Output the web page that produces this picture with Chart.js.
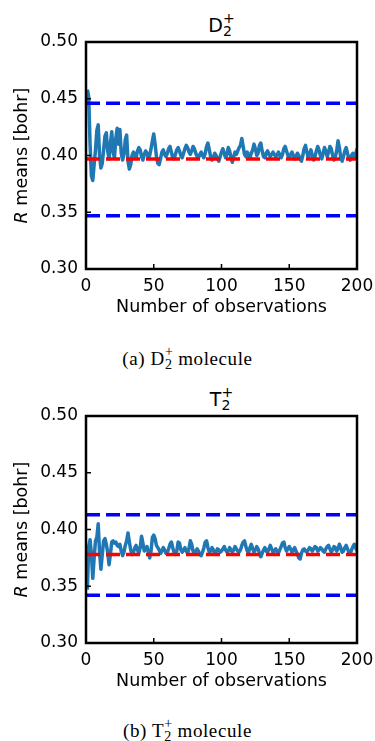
<!DOCTYPE html>
<html>
<head>
<meta charset="utf-8">
<script src="https://cdn.jsdelivr.net/npm/chart.js@4.4.1/dist/chart.umd.min.js"></script>
<style>
  body { margin: 0; background: #fff; width: 375px; height: 741px; position: relative; overflow: hidden; }
  canvas { position: absolute; left: 0; }
  .title { position: absolute; left: 86px; width: 271px; text-align: center; font: 19px "DejaVu Sans"; line-height: 20px; color: #000; }
  .caption { position: absolute; left: 0; width: 375px; text-align: center; font: 19px "Liberation Serif"; letter-spacing: 0.6px; line-height: 20px; color: #000; }
  .ss { display: inline-block; vertical-align: -0.32em; font-size: 0.74em; line-height: 0.95; text-align: left; letter-spacing: 0; }
  .ss span { display: block; }
</style>
</head>
<body>
<div class="title" style="top:12px">D<span class="ss"><span>+</span><span>2</span></span></div>
<canvas id="chartD" width="375" height="320" style="top:0px"></canvas>
<div class="caption" style="top:345px">(a) D<span class="ss"><span>+</span><span>2</span></span> molecule</div>

<div class="title" style="top:386px">T<span class="ss"><span>+</span><span>2</span></span></div>
<canvas id="chartT" width="375" height="320" style="top:374px"></canvas>
<div class="caption" style="top:717px">(b) T<span class="ss"><span>+</span><span>2</span></span> molecule</div>

<script>
// tick labels
const xTicks = [0, 50, 100, 150, 200];
const yTicks = [0.30, 0.35, 0.40, 0.45, 0.50];

// D2+ running means (observation 1..200)
const dMeans = [
  0.458, 0.452, 0.410, 0.382, 0.378, 0.392, 0.405, 0.422, 0.427, 0.400,
  0.389, 0.393, 0.405, 0.417, 0.420, 0.404, 0.397, 0.410, 0.421, 0.403,
  0.398, 0.415, 0.424, 0.410, 0.423, 0.402, 0.396, 0.401, 0.414, 0.418,
  0.395, 0.388, 0.392, 0.400, 0.403, 0.401, 0.398, 0.404, 0.407, 0.405,
  0.399, 0.396, 0.401, 0.404, 0.402, 0.398, 0.400, 0.406, 0.413, 0.419,
  0.410, 0.399, 0.393, 0.392, 0.397, 0.403, 0.405, 0.401, 0.399, 0.402,
  0.406, 0.408, 0.403, 0.398, 0.397, 0.401, 0.405, 0.407, 0.404, 0.400,
  0.398, 0.402, 0.406, 0.409, 0.407, 0.403, 0.401, 0.404, 0.408, 0.406,
  0.402, 0.399, 0.398, 0.401, 0.403, 0.400, 0.398, 0.402, 0.408, 0.411,
  0.405, 0.399, 0.396, 0.398, 0.402, 0.400, 0.397, 0.395, 0.399, 0.403,
  0.406, 0.402, 0.398, 0.401, 0.407, 0.404, 0.398, 0.394, 0.399, 0.403,
  0.401, 0.404, 0.407, 0.409, 0.415, 0.408, 0.401, 0.399, 0.403, 0.401,
  0.398, 0.402, 0.405, 0.410, 0.406, 0.400, 0.402, 0.409, 0.411, 0.404,
  0.399, 0.398, 0.402, 0.404, 0.401, 0.399, 0.401, 0.403, 0.401, 0.399,
  0.400, 0.403, 0.401, 0.398, 0.401, 0.406, 0.408, 0.404, 0.400, 0.398,
  0.401, 0.403, 0.400, 0.397, 0.399, 0.402, 0.400, 0.397, 0.395, 0.400,
  0.406, 0.409, 0.403, 0.398, 0.401, 0.405, 0.400, 0.396, 0.399, 0.404,
  0.408, 0.405, 0.400, 0.397, 0.402, 0.407, 0.404, 0.399, 0.403, 0.408,
  0.406, 0.400, 0.396, 0.399, 0.404, 0.413, 0.407, 0.398, 0.395, 0.399,
  0.404, 0.407, 0.402, 0.397, 0.396, 0.400, 0.402, 0.398, 0.401, 0.406
];
const dRef = 0.397;
const dLow = 0.347;
const dHigh = 0.446;

// T2+ running means (observation 1..200)
const tMeans = [
  0.347, 0.385, 0.391, 0.378, 0.357, 0.375, 0.390, 0.393, 0.405, 0.380,
  0.365, 0.378, 0.390, 0.392, 0.387, 0.380, 0.369, 0.378, 0.389, 0.390,
  0.388, 0.389, 0.386, 0.385, 0.387, 0.381, 0.377, 0.380, 0.386, 0.390,
  0.397, 0.389, 0.382, 0.378, 0.380, 0.384, 0.386, 0.382, 0.379, 0.384,
  0.394, 0.388, 0.381, 0.383, 0.385, 0.380, 0.375, 0.381, 0.393, 0.395,
  0.392, 0.386, 0.384, 0.382, 0.379, 0.381, 0.384, 0.382, 0.379, 0.380,
  0.383, 0.387, 0.389, 0.384, 0.380, 0.378, 0.381, 0.389, 0.388, 0.382,
  0.380, 0.382, 0.384, 0.381, 0.379, 0.383, 0.390, 0.387, 0.381, 0.379,
  0.381, 0.383, 0.381, 0.378, 0.377, 0.380, 0.384, 0.389, 0.390, 0.384,
  0.380, 0.381, 0.384, 0.382, 0.379, 0.380, 0.383, 0.382, 0.380, 0.381,
  0.383, 0.385, 0.382, 0.380, 0.381, 0.384, 0.382, 0.380, 0.382, 0.385,
  0.383, 0.381, 0.380, 0.382, 0.386, 0.389, 0.390, 0.385, 0.381, 0.380,
  0.384, 0.387, 0.383, 0.380, 0.382, 0.385, 0.383, 0.379, 0.376, 0.379,
  0.382, 0.384, 0.381, 0.380, 0.383, 0.386, 0.383, 0.380, 0.381, 0.383,
  0.381, 0.379, 0.382, 0.385, 0.388, 0.389, 0.384, 0.381, 0.383, 0.385,
  0.383, 0.380, 0.382, 0.384, 0.381, 0.378, 0.375, 0.374, 0.379, 0.382,
  0.383, 0.381, 0.380, 0.382, 0.384, 0.383, 0.381, 0.383, 0.385, 0.384,
  0.381, 0.382, 0.384, 0.383, 0.381, 0.380, 0.383, 0.385, 0.386, 0.383,
  0.380, 0.382, 0.385, 0.384, 0.381, 0.383, 0.387, 0.384, 0.380, 0.381,
  0.384, 0.386, 0.383, 0.380, 0.379, 0.382, 0.385, 0.387, 0.384, 0.381
];
const tRef = 0.378;
const tLow = 0.342;
const tHigh = 0.413;

// frame, inward ticks and y title with italic R
const framePlugin = {
  id: 'frame',
  afterDatasetsDraw(chart) {
    const ctx = chart.ctx;
    const a = chart.chartArea;
    const x = chart.scales.x;
    const y = chart.scales.y;
    ctx.save();
    ctx.strokeStyle = '#000';
    ctx.lineWidth = 1.5;
    ctx.beginPath();
    yTicks.forEach((v) => {
      const py = y.getPixelForValue(v);
      ctx.moveTo(a.left, py);
      ctx.lineTo(a.left + 5, py);
    });
    xTicks.forEach((v) => {
      const px = x.getPixelForValue(v);
      ctx.moveTo(px, a.bottom);
      ctx.lineTo(px, a.bottom - 5);
    });
    ctx.stroke();
    ctx.lineWidth = 2.5;
    ctx.strokeRect(a.left, a.top, a.right - a.left, a.bottom - a.top);

    ctx.translate(22, (a.top + a.bottom) / 2);
    ctx.rotate(-Math.PI / 2);
    ctx.fillStyle = '#000';
    ctx.textBaseline = 'middle';
    const f1 = 'italic 17.5px "DejaVu Sans"';
    const f2 = '17.5px "DejaVu Sans"';
    ctx.font = f1;
    const w1 = ctx.measureText('R').width;
    ctx.font = f2;
    const w2 = ctx.measureText(' means [bohr]').width;
    const start = -(w1 + w2) / 2;
    ctx.font = f1;
    ctx.fillText('R', start, 0);
    ctx.font = f2;
    ctx.fillText(' means [bohr]', start + w1, 0);
    ctx.restore();
  }
};

function hLine(value, color) {
  return {
    data: [{ x: 0, y: value }, { x: 200, y: value }],
    borderColor: color,
    borderWidth: 3.5,
    borderDash: [14, 6],
    pointRadius: 0
  };
}

function makeChart(id, means, ref, low, high) {
  const points = means.map((v, i) => ({ x: i + 1, y: v }));
  new Chart(document.getElementById(id), {
    type: 'line',
    data: {
      datasets: [
        hLine(ref, '#ff0000'),
        hLine(high, '#0000ff'),
        hLine(low, '#0000ff'),
        {
          data: points,
          borderColor: '#1f77b4',
          borderWidth: 3.5,
          borderJoinStyle: 'round',
          pointRadius: 0,
          tension: 0
        }
      ]
    },
    options: {
      responsive: false,
      animation: false,
      events: [],
      layout: { padding: { top: 42, left: 0, right: 18, bottom: 0 } },
      plugins: { legend: { display: false }, tooltip: { enabled: false } },
      scales: {
        x: {
          type: 'linear',
          min: 0,
          max: 200,
          afterBuildTicks: (s) => { s.ticks = xTicks.map((v) => ({ value: v })); },
          afterFit: (s) => { s.height = 51; s.paddingLeft = 0; s.paddingRight = 0; },
          grid: { display: false, drawTicks: false },
          border: { display: false },
          ticks: {
            color: '#000',
            padding: 7,
            maxRotation: 0,
            font: { family: 'DejaVu Sans', size: 17 }
          },
          title: {
            display: true,
            text: 'Number of observations',
            color: '#000',
            font: { family: 'DejaVu Sans', size: 17.5 },
            padding: { top: 0, bottom: 2 }
          }
        },
        y: {
          min: 0.30,
          max: 0.50,
          afterBuildTicks: (s) => { s.ticks = yTicks.map((v) => ({ value: v })); },
          afterFit: (s) => { s.width = 86; s.paddingTop = 0; s.paddingBottom = 0; },
          grid: { display: false, drawTicks: false },
          border: { display: false },
          ticks: {
            color: '#000',
            padding: 8,
            font: { family: 'DejaVu Sans', size: 17 },
            callback: (v) => v.toFixed(2)
          }
        }
      }
    },
    plugins: [framePlugin]
  });
}

makeChart('chartD', dMeans, dRef, dLow, dHigh);
makeChart('chartT', tMeans, tRef, tLow, tHigh);
</script>
</body>
</html>
